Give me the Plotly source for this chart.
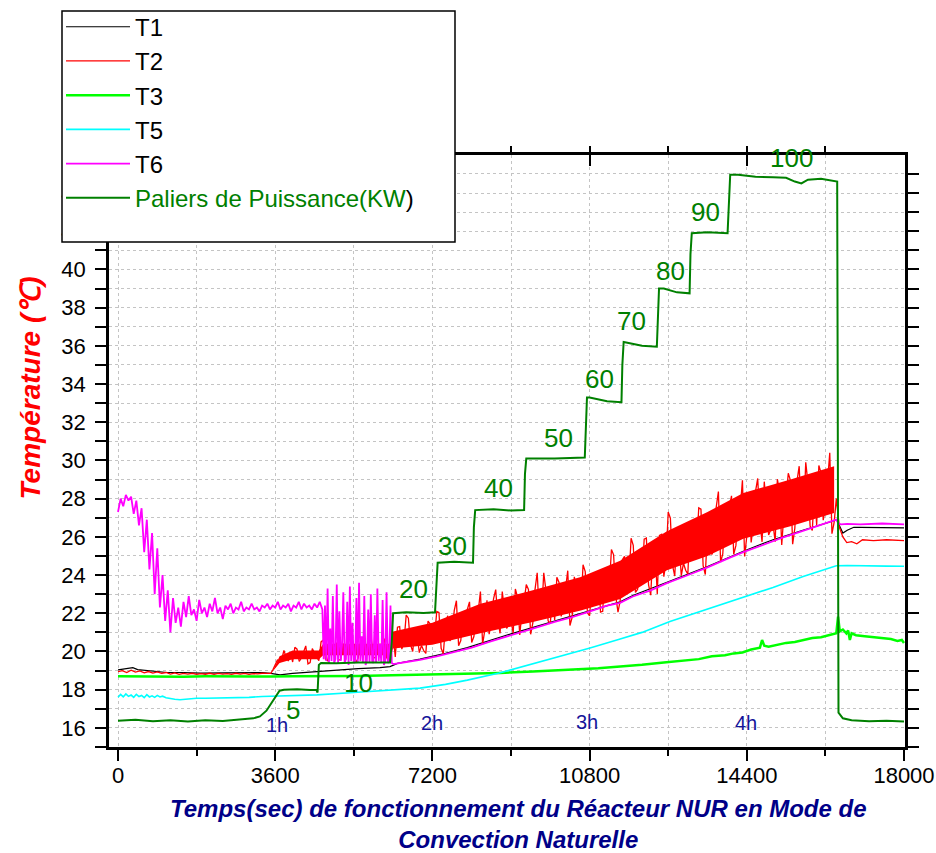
import plotly.graph_objects as go

# ---------------- data ----------------
# T1 (black)
T1_t = [0, 150, 340, 450, 700, 1120, 1500, 1900, 2400, 2900,
        3300, 3500, 3710, 4000, 4300, 4557, 5000, 5500, 6000, 6230,
        6400, 6915, 7500, 8000, 9000, 10000, 10810, 11500, 11790, 12570,
        13500, 14320, 15000, 15700, 16370, 16470, 16520, 16600, 16700, 16850,
        17000, 17500, 18000]
T1 = [19.04, 19.08, 19.15, 19.05, 19.0, 18.9, 18.9, 18.87, 18.88, 18.87,
      18.9, 18.85, 18.78, 18.85, 18.9, 18.95, 19.05, 19.1, 19.15, 19.21,
      19.38, 19.6, 19.9, 20.2, 20.92, 21.6, 22.15, 22.6, 22.93, 23.63,
      24.45, 25.25, 25.85, 26.35, 26.86, 26.9, 26.6, 26.2, 26.35, 26.5,
      26.5, 26.48, 26.47]

# T2 (red): quiet start (every 100 s from 0)
T2_quiet_start, T2_quiet_step = 0, 100
T2_quiet = [18.95, 19.0, 18.9, 19.02, 18.92, 18.98, 18.88, 18.95, 18.87, 18.93,
            18.85, 18.9, 18.82, 18.88, 18.8, 18.85, 18.82, 18.86, 18.8, 18.84,
            18.81, 18.86, 18.8, 18.85, 18.82, 18.84, 18.8, 18.86, 18.82, 18.85,
            18.8, 18.84, 18.83, 18.86, 18.85]
# noisy part: samples at 3500, 3600, ... (every 100 s) and in-between samples at 3550, 3650, ...
T2_noisy_start, T2_noisy_step = 3500, 100
T2_noisy = [18.85, 19.3, 19.45, 20.05, 19.5,
            19.45, 20.12, 19.66, 20.29, 19.42, 19.9, 19.52, 20.6, 19.5, 20.37,
            20.46, 19.56, 20.19, 20.82, 19.79, 19.65, 20.55, 19.97, 20.69, 19.7,
            19.88, 20.64, 19.47, 20.84, 21.27, 20.12, 21.91, 20.34, 21.27, 19.94,
            20.05, 21.59, 20.58, 22.09, 20.17, 21.36, 20.55, 22.14, 20.3, 21.89,
            22.2, 20.47, 21.81, 23.14, 21.12, 20.91, 22.76, 21.65, 23.14, 21.21,
            21.6, 23.27, 20.86, 22.62, 23.25, 21.5, 24.12, 21.9, 23.2, 21.45,
            21.65, 23.61, 22.37, 24.23, 21.78, 23.24, 22.2, 24.18, 21.87, 23.85,
            24.21, 22.1, 23.72, 25.34, 22.9, 22.65, 24.98, 23.67, 25.56, 23.26,
            23.78, 25.94, 22.95, 25.23, 26.08, 23.92, 27.3, 24.5, 26.16, 23.97,
            24.25, 26.72, 25.18, 27.52, 24.49, 26.33, 25.07, 27.56, 24.68, 27.17,
            27.57, 25.09, 27.03, 28.96, 26.04, 25.71, 28.38, 26.75, 28.89, 26.1,
            26.66, 29.02, 25.57, 28.07, 28.95, 26.45, 29.7, 27.0, 28.83, 26.33,
            26.62, 29.35, 27.6, 30.4, 26.76]
T2_noisy_mid = [19.05, 19.55, 19.6, 19.7, 19.95,
                20.22, 19.48, 19.98, 19.35, 20.15, 19.7, 20.5, 19.6, 20.19, 19.78,
                19.56, 20.42, 20.01, 20.69, 19.43, 20.5, 19.83, 20.87, 19.65, 20.28,
                20.64, 19.7, 20.32, 19.72, 21.3, 20.52, 21.74, 20.0, 20.93, 20.31,
                19.9, 21.44, 20.77, 22.04, 19.88, 21.87, 20.74, 22.66, 20.57, 21.77,
                22.6, 20.78, 22.11, 20.37, 22.68, 21.56, 23.24, 20.95, 22.18, 21.42,
                20.96, 22.83, 22.02, 23.5, 20.9, 23.24, 21.87, 24.12, 21.61, 23.0,
                23.88, 21.84, 23.3, 21.36, 23.91, 22.67, 24.54, 22.03, 23.41, 22.59,
                22.06, 24.23, 23.32, 25.06, 22.06, 24.8, 23.28, 25.93, 23.09, 24.75,
                25.88, 23.48, 25.29, 23.01, 26.14, 24.7, 26.98, 23.95, 25.61, 24.62,
                24.05, 26.51, 25.48, 27.45, 24.03, 27.13, 25.37, 28.37, 25.11, 26.98,
                28.15, 25.54, 27.48, 24.97, 28.28, 26.66, 29.06, 25.74, 27.5, 26.39,
                25.75, 28.37, 27.23, 29.33, 25.62, 28.93, 26.97, 29.9, 26.57, 28.53,
                29.74, 26.87, 28.9, 26.17]
T2_after_t = [16450, 16520, 16600, 16690, 16800, 16920, 17050, 17300, 17600, 18000]
T2_after = [28.0, 26.5, 26.0, 25.7, 25.75, 25.64, 25.85, 25.8, 25.85, 25.8]
# dense core of the noisy T2 band (lower / upper edge)
T2_band_t = [3560, 3700, 4000, 4600, 4700, 6250, 6300, 7200, 8300, 9500,
             10600, 11500, 12570, 13500, 14320, 15400, 16400]
T2_band_lo = [19.0, 19.4, 19.6, 19.6, 19.8, 19.8, 20.15, 20.35, 20.95, 21.55,
              22.15, 22.75, 24.25, 25.0, 25.9, 26.55, 27.25]
T2_band_hi = [19.05, 19.75, 20.05, 20.05, 20.4, 20.4, 21.05, 21.5, 22.5, 23.2,
              23.9, 24.75, 26.3, 27.3, 28.3, 29.0, 29.7]

# T3 (lime)
T3_t = [0, 500, 1000, 1500, 2000, 2500, 3000, 3500, 4000, 4500,
        5000, 5500, 6000, 6500, 6915, 7500, 8000, 8750, 9500, 10340,
        11000, 11500, 12000, 12500, 13020, 13300, 13600, 13900, 14100, 14300,
        14500, 14700, 14750, 14800, 14900, 15100, 15300, 15500, 15700, 15900,
        16100, 16300, 16450, 16490, 16530, 16600, 16680, 16720, 16760, 16800,
        16900, 17100, 17300, 17500, 17700, 17850, 17950, 18000]
T3 = [18.7, 18.69, 18.7, 18.68, 18.7, 18.69, 18.7, 18.69, 18.7, 18.7,
      18.72, 18.72, 18.74, 18.76, 18.78, 18.8, 18.83, 18.88, 18.95, 19.04,
      19.12, 19.22, 19.3, 19.42, 19.56, 19.6, 19.75, 19.8, 19.9, 19.95,
      20.1, 20.2, 20.6, 20.3, 20.25, 20.35, 20.45, 20.5, 20.6, 20.7,
      20.75, 20.85, 20.96, 21.83, 21.05, 21.15, 20.95, 21.1, 20.6, 20.95,
      20.85, 20.8, 20.75, 20.7, 20.65, 20.55, 20.6, 20.44]

# T5 (cyan)
T5_t = [0, 60, 120, 180, 240, 300, 360, 420, 480, 540,
        600, 660, 720, 780, 840, 900, 960, 1020, 1100, 1200,
        1300, 1420, 1600, 1800, 2000, 2500, 3000, 3300, 3800, 4557,
        5400, 6300, 6915, 7500, 8000, 8730, 9500, 10000, 10810, 11500,
        12000, 12640, 13200, 13800, 14400, 15000, 15690, 16100, 16450, 16700,
        17200, 17600, 18000]
T5 = [17.6, 17.75, 17.62, 17.78, 17.65, 17.72, 17.6, 17.76, 17.64, 17.7,
      17.58, 17.74, 17.62, 17.68, 17.6, 17.7, 17.62, 17.66, 17.58, 17.52,
      17.5, 17.47, 17.52, 17.55, 17.55, 17.56, 17.6, 17.64, 17.68, 17.73,
      17.85, 18.0, 18.08, 18.28, 18.5, 18.87, 19.35, 19.65, 20.18, 20.65,
      21.0, 21.57, 22.0, 22.45, 22.88, 23.35, 23.93, 24.25, 24.49, 24.5,
      24.5, 24.47, 24.46]

# T6 (magenta): noisy start (every 60 s), oscillating part (every 30 s), smooth part
T6_early_start, T6_early_step = 0, 60
T6_early = [27.3, 28.0, 27.6, 28.2, 27.9, 28.1, 27.2, 27.9, 26.6, 27.5,
            25.2, 26.9, 24.3, 26.2, 23.0, 25.4, 22.3, 24.0, 21.6, 23.2,
            21.0,
            22.8, 21.5, 22.3, 21.3, 22.6, 21.8, 22.9, 21.9, 22.2, 21.6,
            22.7, 22.0, 22.3, 21.8, 22.5, 22.1, 22.8, 22.0, 22.3, 21.7,
            22.4, 22.2, 22.5, 22.0, 22.3, 22.2, 22.6, 22.1, 22.3, 22.2,
            22.5, 22.2, 22.3, 22.1, 22.4,
            22.3, 22.5, 22.2, 22.4, 22.3, 22.6, 22.2, 22.4, 22.3, 22.5,
            22.1, 22.4, 22.3, 22.6, 22.2, 22.5, 22.3, 22.4, 22.2, 22.5,
            22.3, 22.6, 22.2]
T6_osc_start, T6_osc_step = 4710, 30
T6_osc = [19.6, 22.4, 19.5, 23.3, 19.4, 21.2, 19.5, 22.9, 19.4, 19.6,
          23.5, 19.4, 22.1, 19.5, 20.3, 23.1, 19.4, 19.6, 22.6, 19.3,
          23.4, 19.5, 21.5, 19.4, 19.5, 22.8, 19.4, 23.6, 19.5, 20.8,
          19.4, 22.9, 19.3, 19.5, 22.2, 19.4, 23.0, 19.5, 19.4, 21.9,
          19.4, 23.3, 19.5, 20.4, 19.4, 22.7, 19.3, 19.5, 23.1, 19.4,
          19.5, 22.4, 19.4, 19.35]
T6_late_t = [6340, 6600, 6915, 7300, 7700, 8100, 8500, 9000, 9500, 10000,
             10400, 10810, 11200, 11500, 11790, 12200, 12570, 13000, 13500, 14000,
             14320, 14800, 15200, 15600, 16000, 16370, 16450, 16500, 16560, 16700,
             17000, 17500, 18000]
T6_late = [19.35, 19.45, 19.56, 19.75, 19.98, 20.2, 20.5, 20.87, 21.2, 21.55,
           21.8, 22.1, 22.4, 22.55, 22.88, 23.2, 23.58, 23.95, 24.4, 24.9,
           25.2, 25.6, 25.95, 26.25, 26.55, 26.81, 26.9, 26.7, 26.65, 26.68,
           26.65, 26.7, 26.65]

# Paliers de puissance (dark green)
P_t = [0, 400, 800, 1200, 1600, 2000, 2400, 2800, 3100, 3250,
       3400, 3500, 3600, 3700, 3800, 4100, 4400, 4540, 4570, 4600,
       4650, 5000, 5500, 6000, 6230, 6270, 6300, 6600, 7000, 7260,
       7290, 7320, 7700, 8130, 8150, 8180, 8600, 9000, 9300, 9320,
       9350, 10000, 10690, 10710, 10740, 10800, 11200, 11530, 11550, 11580,
       11700, 12000, 12340, 12360, 12390, 12500, 12800, 13090, 13110, 13140,
       13500, 13960, 13990, 14020, 14200, 14600, 15000, 15300, 15500, 15650,
       15800, 16100, 16470, 16500, 16600, 16800, 17200, 17600, 18000]
P = [16.38, 16.42, 16.35, 16.4, 16.33, 16.4, 16.36, 16.42, 16.5, 16.6,
     16.9, 17.25, 17.6, 17.95, 18.0, 18.02, 17.98, 18.0, 17.85, 19.3,
     19.4, 19.38, 19.42, 19.4, 19.42, 20.5, 22.0, 22.05, 22.02, 22.05,
     23.8, 24.65, 24.7, 24.65, 26.5, 27.4, 27.45, 27.38, 27.4, 29.3,
     30.1, 30.1, 30.15, 32.0, 33.3, 33.3, 33.1, 33.05, 35.0, 36.2,
     36.15, 36.0, 35.95, 37.8, 39.0, 39.0, 38.8, 38.75, 40.8, 41.9,
     41.95, 41.9, 43.8, 44.95, 44.95, 44.85, 44.82, 44.8, 44.6, 44.5,
     44.7, 44.75, 44.6, 16.8, 16.5, 16.4, 16.35, 16.38, 16.33]

# level labels (kW) and their positions
P_labels = ["5", "10", "20", "30", "40", "50", "60", "70", "80", "90", "100"]
P_label_t = [4014, 5503, 6762, 7664, 8725, 10083, 11023, 11762, 12655, 13465, 15425]
P_label_y = [16.94, 18.34, 23.27, 25.54, 28.56, 31.18, 34.27, 37.3, 39.9, 43.0, 45.85]

# hour marks
H_labels = ["1h", "2h", "3h", "4h"]
H_t = [3634, 7183, 10733, 14380]
H_y = [16.16, 16.25, 16.33, 16.25]

X_range = [-206, 18023]
Y_range = [15.0, 45.99]

for a, b in [(T1_t, T1), (T2_band_t, T2_band_lo), (T2_band_t, T2_band_hi), (T3_t, T3),
             (T5_t, T5), (T6_late_t, T6_late), (P_t, P), (T2_after_t, T2_after)]:
    assert len(a) == len(b)
assert len(T2_noisy_mid) == len(T2_noisy) - 1


def regular(start, step, values):
    return [start + step * i for i in range(len(values))]


# interleave the 100 s samples with the in-between samples
noisy_x, noisy_y = [], []
for i, v in enumerate(T2_noisy):
    noisy_x.append(T2_noisy_start + T2_noisy_step * i)
    noisy_y.append(v)
    if i < len(T2_noisy_mid):
        noisy_x.append(T2_noisy_start + T2_noisy_step * i + T2_noisy_step // 2)
        noisy_y.append(T2_noisy_mid[i])

T2_x = regular(T2_quiet_start, T2_quiet_step, T2_quiet) + noisy_x + T2_after_t
T2_y = T2_quiet + noisy_y + T2_after
T6_x = regular(T6_early_start, T6_early_step, T6_early) + regular(T6_osc_start, T6_osc_step, T6_osc) + T6_late_t
T6_y = T6_early + T6_osc + T6_late

FONT = "Liberation Sans, Arial, Helvetica, sans-serif"
GREEN = "#008000"

fig = go.Figure()
fig.add_trace(go.Scatter(x=T1_t, y=T1, mode="lines", name="T1",
                         line=dict(color="black", width=1.2)))
fig.add_trace(go.Scatter(x=T2_band_t + T2_band_t[::-1], y=T2_band_hi + T2_band_lo[::-1],
                         mode="lines", fill="toself", fillcolor="#ff0000",
                         line=dict(width=0, color="#ff0000"), showlegend=False, hoverinfo="skip"))
fig.add_trace(go.Scatter(x=T2_x, y=T2_y, mode="lines", name="T2",
                         line=dict(color="#ff0000", width=1.3)))
fig.add_trace(go.Scatter(x=T3_t, y=T3, mode="lines", name="T3",
                         line=dict(color="#00ff00", width=2.5)))
fig.add_trace(go.Scatter(x=T5_t, y=T5, mode="lines", name="T5",
                         line=dict(color="#00ffff", width=1.6)))
fig.add_trace(go.Scatter(x=T6_x, y=T6_y, mode="lines", name="T6",
                         line=dict(color="#ff00ff", width=1.8)))
fig.add_trace(go.Scatter(x=P_t, y=P, mode="lines",
                         name="<span style='color:#008000'>Paliers de Puissance(KW</span>)",
                         line=dict(color=GREEN, width=2)))
# dummy trace for the top axis
fig.add_trace(go.Scatter(x=[None], y=[None], xaxis="x2", showlegend=False, hoverinfo="skip"))

annotations = []
for lab, t, y in zip(P_labels, P_label_t, P_label_y):
    annotations.append(dict(x=t, y=y, xref="x", yref="y", text=lab, showarrow=False,
                            font=dict(size=26, color=GREEN, family=FONT)))
for lab, t, y in zip(H_labels, H_t, H_y):
    annotations.append(dict(x=t, y=y, xref="x", yref="y", text=lab, showarrow=False,
                            font=dict(size=20, color="#14149a", family=FONT)))
annotations.append(dict(x=0.514, y=-0.1309, xref="paper", yref="paper",
                        text="Temps(sec) de fonctionnement du Réacteur NUR en Mode de<br>Convection Naturelle",
                        showarrow=False, xanchor="center", yanchor="middle",
                        font=dict(size=24, color="#000088", family=FONT, weight="bold", style="italic")))
annotations.append(dict(x=-0.099, y=0.606, xref="paper", yref="paper",
                        text="Température (℃)", textangle=-90, showarrow=False,
                        xanchor="center", yanchor="middle",
                        font=dict(size=28, color="#ff0000", family=FONT, weight="bold", style="italic")))

grid = dict(gridcolor="#c4c4c4", griddash="dot", gridwidth=1)

fig.update_layout(
    width=936, height=853,
    margin=dict(l=109, r=31, t=155, b=106, autoexpand=False),
    plot_bgcolor="white", paper_bgcolor="white",
    font=dict(family=FONT, color="black"),
    xaxis=dict(range=X_range, tickmode="linear", tick0=0, dtick=3600, tickformat="d",
               ticks="outside", ticklen=11, tickwidth=2, tickcolor="black",
               showline=True, linecolor="black", linewidth=2.5, mirror=False,
               zeroline=False, showgrid=True, **grid,
               tickfont=dict(size=22, family=FONT), ticklabelstandoff=-4,
               minor=dict(dtick=1800, ticklen=6, tickwidth=2, tickcolor="black",
                          showgrid=True, **grid)),
    xaxis2=dict(range=X_range, overlaying="x", side="top", anchor="y",
                tickmode="linear", tick0=0, dtick=3600, ticks="inside",
                ticklen=11, tickwidth=2, tickcolor="black", showticklabels=False,
                showline=True, linecolor="black", linewidth=2.5,
                showgrid=False, zeroline=False,
                minor=dict(dtick=1800, ticklen=6, tickwidth=2, tickcolor="black", showgrid=False)),
    yaxis=dict(range=Y_range, tickmode="linear", tick0=16, dtick=2,
               ticks="outside", ticklen=11, tickwidth=2, tickcolor="black",
               showline=True, linecolor="black", linewidth=2.5, mirror="allticks",
               zeroline=False, showgrid=True, **grid,
               tickfont=dict(size=22, family=FONT), ticklabelstandoff=5,
               minor=dict(dtick=1, ticklen=6, tickwidth=2, tickcolor="black",
                          showgrid=True, **grid)),
    legend=dict(x=-0.0603, y=1.254, xanchor="left", yanchor="top",
                bgcolor="rgba(0,0,0,0)", borderwidth=0,
                font=dict(size=24, family=FONT, color="black"),
                itemwidth=64, tracegroupgap=0),
    shapes=[dict(type="rect", xref="paper", yref="paper",
                 x0=-0.05905, x1=0.43467, y0=0.85304, y1=1.24324,
                 fillcolor="white", line=dict(color="black", width=1.5), layer="above")],
    annotations=annotations,
)

# remove the default page margin so the 936x853 figure fills the window exactly
fig.write_html("out.html", config={"displayModeBar": False},
               post_script="document.body.style.margin='0px';")
